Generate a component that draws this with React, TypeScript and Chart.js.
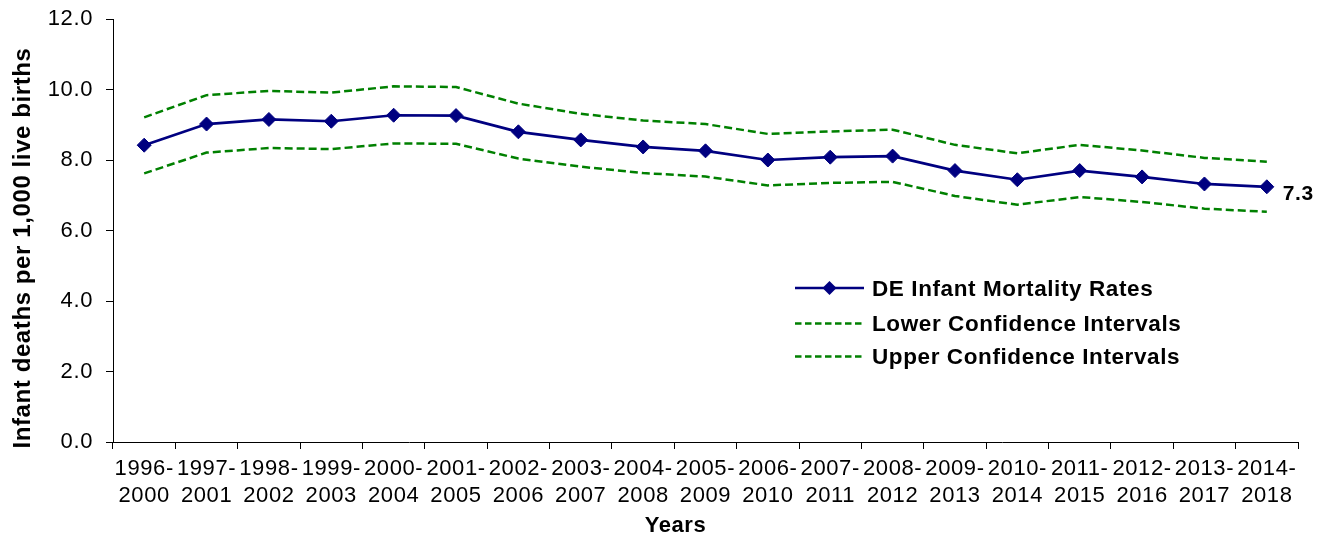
import React, { useEffect, useRef } from "react";
import { Chart, registerables } from "chart.js";

Chart.register(...registerables);

const categories = [
  "1996-2000", "1997-2001", "1998-2002", "1999-2003", "2000-2004", "2001-2005",
  "2002-2006", "2003-2007", "2004-2008", "2005-2009", "2006-2010", "2007-2011",
  "2008-2012", "2009-2013", "2010-2014", "2011-2015", "2012-2016", "2013-2017",
  "2014-2018",
];
const mortalityRates = [8.42, 9.02, 9.15, 9.10, 9.27, 9.26, 8.80, 8.57, 8.37, 8.26, 8.00, 8.08, 8.11, 7.70, 7.44, 7.70, 7.52, 7.32, 7.24];
const lowerCI = [7.62, 8.21, 8.34, 8.31, 8.47, 8.46, 8.04, 7.81, 7.63, 7.53, 7.28, 7.35, 7.38, 6.98, 6.73, 6.95, 6.81, 6.62, 6.53];
const upperCI = [9.21, 9.84, 9.96, 9.91, 10.09, 10.07, 9.60, 9.31, 9.12, 9.02, 8.74, 8.81, 8.86, 8.43, 8.19, 8.43, 8.27, 8.06, 7.95];
const seriesNames = ["DE Infant Mortality Rates", "Lower Confidence Intervals", "Upper Confidence Intervals"];
const yTitle = "Infant deaths per 1,000 live births";
const xTitle = "Years";
const lastLabel = "7.3";

const FAMILY = "'Liberation Sans', Arial, Helvetica, sans-serif";
const NAVY = "#000080";
const GREEN = "#008000";
const SPACING = "0.6px";

export default function App() {
  const ref = useRef<HTMLCanvasElement | null>(null);

  useEffect(() => {
    const canvas = ref.current;
    if (!canvas) return;

    const spacingPlugin = {
      id: "spacing",
      beforeUpdate(chart: any) {
        chart.ctx.letterSpacing = SPACING;
      },
      beforeDraw(chart: any) {
        chart.ctx.letterSpacing = SPACING;
      },
    };

    const overlayPlugin = {
      id: "overlay",
      afterDraw(chart: any) {
        const ctx = chart.ctx as CanvasRenderingContext2D;
        const ca = chart.chartArea;
        ctx.save();
        (ctx as any).letterSpacing = SPACING;
        ctx.fillStyle = "#000";

        // y axis title
        ctx.save();
        ctx.translate(23, 248);
        ctx.rotate(-Math.PI / 2);
        ctx.font = `bold 24px ${FAMILY}`;
        ctx.textAlign = "center";
        ctx.textBaseline = "middle";
        ctx.fillText(yTitle, 0, 0);
        ctx.restore();

        // x axis title
        ctx.font = `bold 22px ${FAMILY}`;
        ctx.textAlign = "center";
        ctx.textBaseline = "middle";
        ctx.fillText(xTitle, (ca.left + ca.right) / 2 - 30, 526);

        // last value label
        const meta = chart.getDatasetMeta(0);
        const lastPt = meta.data[meta.data.length - 1];
        ctx.font = `bold 21px ${FAMILY}`;
        ctx.textAlign = "left";
        ctx.textBaseline = "middle";
        ctx.fillText(lastLabel, lastPt.x + 16, lastPt.y + 7);

        // legend
        const lx0 = 795, lx1 = 864, tx = 872;
        const ys = [288, 323.5, 356.5];
        ys.forEach((y, i) => {
          ctx.beginPath();
          if (i === 0) {
            ctx.setLineDash([]);
            ctx.strokeStyle = NAVY;
            ctx.lineWidth = 2.5;
          } else {
            ctx.setLineDash([6.5, 3.5]);
            ctx.strokeStyle = GREEN;
            ctx.lineWidth = 2.5;
          }
          ctx.moveTo(lx0, y);
          ctx.lineTo(lx1, y);
          ctx.stroke();
          ctx.setLineDash([]);
          if (i === 0) {
            const cx = (lx0 + lx1) / 2;
            ctx.beginPath();
            ctx.fillStyle = NAVY;
            ctx.moveTo(cx, y - 7);
            ctx.lineTo(cx + 7, y);
            ctx.lineTo(cx, y + 7);
            ctx.lineTo(cx - 7, y);
            ctx.closePath();
            ctx.fill();
          }
          ctx.fillStyle = "#000";
          ctx.font = `bold 22.5px ${FAMILY}`;
          ctx.textAlign = "left";
          ctx.textBaseline = "middle";
          ctx.fillText(seriesNames[i], tx, y + 1.5);
        });
        ctx.restore();
      },
    };

    const chart = new Chart(canvas, {
      type: "line",
      data: {
        labels: categories.map((c) => [c.slice(0, 5), c.slice(5)]),
        datasets: [
          {
            label: seriesNames[0],
            data: mortalityRates,
            borderColor: NAVY,
            backgroundColor: NAVY,
            borderWidth: 2.7,
            pointStyle: "rectRot",
            pointRadius: 7,
            pointBorderWidth: 1,
            pointBackgroundColor: NAVY,
            pointBorderColor: NAVY,
            tension: 0,
            order: 0,
          },
          {
            label: seriesNames[1],
            data: lowerCI,
            borderColor: GREEN,
            backgroundColor: GREEN,
            borderWidth: 2.5,
            borderDash: [8, 4],
            pointRadius: 0,
            tension: 0,
            order: 1,
          },
          {
            label: seriesNames[2],
            data: upperCI,
            borderColor: GREEN,
            backgroundColor: GREEN,
            borderWidth: 2.5,
            borderDash: [8, 4],
            pointRadius: 0,
            tension: 0,
            order: 2,
          },
        ],
      },
      options: {
        responsive: false,
        animation: false,
        devicePixelRatio: 1,
        layout: { padding: { left: 0, right: 30, top: 19, bottom: 0 } },
        plugins: {
          legend: { display: false },
          tooltip: { enabled: false },
          title: { display: false },
        },
        scales: {
          x: {
            type: "category",
            offset: true,
            grid: {
              offset: true,
              drawOnChartArea: false,
              drawTicks: true,
              tickLength: 7,
              color: "#000",
              lineWidth: 1,
            },
            border: { display: true, color: "#000", width: 1 },
            ticks: {
              color: "#000",
              font: { family: FAMILY, size: 22, lineHeight: "27px" },
              maxRotation: 0,
              minRotation: 0,
              autoSkip: false,
              padding: 6,
            },
            afterFit(scale: any) {
              scale.height = 96;
              scale.paddingLeft = 0;
              scale.paddingRight = 0;
            },
          },
          y: {
            min: 0,
            max: 12,
            grid: {
              drawOnChartArea: false,
              drawTicks: true,
              tickLength: 7,
              color: "#000",
              lineWidth: 1,
            },
            border: { display: true, color: "#000", width: 1 },
            ticks: {
              stepSize: 2,
              color: "#000",
              font: { family: FAMILY, size: 22 },
              padding: 13,
              callback: (v: any) => Number(v).toFixed(1),
            },
            afterFit(scale: any) {
              scale.width = 113;
              scale.paddingTop = 0;
              scale.paddingBottom = 0;
            },
          },
        },
      },
      plugins: [spacingPlugin, overlayPlugin],
    } as any);

    return () => chart.destroy();
  }, []);

  return (
    <div style={{ position: "absolute", left: 0, top: 0, width: 1328, height: 538, background: "#fff" }}>
      <canvas ref={ref} width={1328} height={538} style={{ display: "block" }} />
    </div>
  );
}
